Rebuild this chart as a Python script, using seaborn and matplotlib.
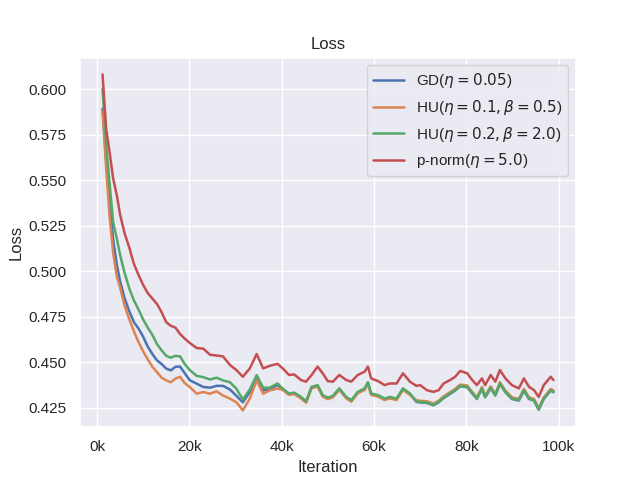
import pandas as pd
import seaborn as sns
import matplotlib
matplotlib.use("Agg")
import matplotlib.pyplot as plt
from matplotlib.ticker import FuncFormatter

# iteration grid
iterations = [1200, 2000, 2700, 3500, 4300, 5000, 6000, 7000, 8000, 9000,
              10000, 11000, 12000, 13000, 14000, 15000, 16000, 17000, 18000, 19000,
              20100, 21600, 23000, 24500, 25900, 27300, 28800, 30200, 31600, 33100,
              34600, 36000, 37400, 39100,
              40200, 41600, 42700, 44200, 45300, 46500, 47800, 48900, 50000, 51100,
              52500, 54000, 55100, 56500, 58000, 58700, 59400, 60900, 62300, 63400,
              64900, 66300, 67800, 69200,
              70000, 71500, 72900, 74000, 75100, 76500, 77600, 78700, 80200, 81300,
              82300, 83400, 84100, 85300, 86300, 87300, 88500, 89900, 91400, 92500,
              93600, 94700, 95700, 96800, 98300, 98900]

gd = [0.5894, 0.561, 0.541, 0.5175, 0.5035, 0.4945, 0.485, 0.478, 0.472, 0.4685,
      0.464, 0.4585, 0.4545, 0.451, 0.449, 0.4465, 0.4455, 0.4475, 0.4476, 0.444,
      0.4401, 0.4382, 0.4364, 0.4360, 0.4370, 0.4370, 0.4350, 0.4315, 0.4280, 0.4336,
      0.4410, 0.4345, 0.4352, 0.4375,
      0.4353, 0.4325, 0.4330, 0.4306, 0.4282, 0.4362, 0.4371, 0.4316, 0.4302, 0.4312,
      0.4353, 0.4306, 0.4288, 0.4334, 0.4353, 0.4387, 0.4325, 0.4316, 0.4297, 0.4306,
      0.4297, 0.4353, 0.4325, 0.4282,
      0.4279, 0.4276, 0.4263, 0.4279, 0.4303, 0.4326, 0.4344, 0.4368, 0.4363, 0.4328,
      0.4298, 0.4354, 0.4307, 0.4358, 0.4317, 0.4381, 0.4335, 0.4298, 0.4289, 0.4344,
      0.4298, 0.4289, 0.4239, 0.4298, 0.4344, 0.4335]

hu_small = [0.588, 0.556, 0.531, 0.510, 0.497, 0.491, 0.481, 0.4735, 0.467, 0.461,
            0.456, 0.4515, 0.4475, 0.4445, 0.4415, 0.440, 0.439, 0.441, 0.442, 0.4385,
            0.4364, 0.4327, 0.4336, 0.4327, 0.4340, 0.4317, 0.4300, 0.4280, 0.4235, 0.4300,
            0.4400, 0.4327, 0.4345, 0.4355,
            0.4348, 0.4320, 0.4325, 0.4301, 0.4277, 0.4357, 0.4366, 0.4311, 0.4297, 0.4307,
            0.4348, 0.4301, 0.4283, 0.4329, 0.4348, 0.4382, 0.4320, 0.4311, 0.4292, 0.4301,
            0.4292, 0.4348, 0.4320, 0.4291,
            0.4288, 0.4285, 0.4272, 0.4288, 0.4312, 0.4335, 0.4353, 0.4377, 0.4372, 0.4337,
            0.4307, 0.4363, 0.4316, 0.4367, 0.4326, 0.4390, 0.4344, 0.4307, 0.4298, 0.4353,
            0.4307, 0.4298, 0.4248, 0.4307, 0.4353, 0.4344]

hu_large = [0.6004, 0.569, 0.549, 0.527, 0.518, 0.509, 0.499, 0.4905, 0.484, 0.479,
            0.4735, 0.469, 0.465, 0.460, 0.4565, 0.4535, 0.4525, 0.4535, 0.4532, 0.449,
            0.4457, 0.4425, 0.4418, 0.4405, 0.4415, 0.4400, 0.4390, 0.4354, 0.4295, 0.4350,
            0.4429, 0.4360, 0.4360, 0.4383,
            0.4356, 0.4328, 0.4333, 0.4309, 0.4285, 0.4365, 0.4374, 0.4319, 0.4305, 0.4315,
            0.4356, 0.4309, 0.4291, 0.4337, 0.4356, 0.4390, 0.4328, 0.4319, 0.4300, 0.4309,
            0.4300, 0.4356, 0.4328, 0.4285,
            0.4281, 0.4278, 0.4265, 0.4281, 0.4305, 0.4328, 0.4346, 0.4370, 0.4365, 0.4330,
            0.4300, 0.4356, 0.4309, 0.4360, 0.4319, 0.4383, 0.4337, 0.4300, 0.4291, 0.4346,
            0.4300, 0.4291, 0.4241, 0.4300, 0.4346, 0.4337]

pnorm = [0.6083, 0.578, 0.566, 0.551, 0.5417, 0.5312, 0.5207, 0.513, 0.504, 0.498,
         0.4925, 0.488, 0.485, 0.482, 0.4775, 0.472, 0.470, 0.469, 0.4655, 0.463,
         0.4606, 0.4578, 0.4575, 0.4541, 0.4537, 0.4532, 0.4485, 0.4457, 0.4420, 0.4466,
         0.4545, 0.4466, 0.4480, 0.4491,
         0.4467, 0.4430, 0.4433, 0.4402, 0.4393, 0.4430, 0.4476, 0.4439, 0.4396, 0.4393,
         0.4430, 0.4402, 0.4393, 0.4430, 0.4448, 0.4476, 0.4411, 0.4396, 0.4374, 0.4383,
         0.4383, 0.4439, 0.4393, 0.4370,
         0.4374, 0.4346, 0.4337, 0.4346, 0.4383, 0.4402, 0.4420, 0.4452, 0.4439, 0.4402,
         0.4374, 0.4411, 0.4374, 0.4430, 0.4393, 0.4457, 0.4411, 0.4374, 0.4356, 0.4411,
         0.4365, 0.4346, 0.4309, 0.4374, 0.4420, 0.4402]

labels = [r'GD($\eta=0.05$)', r'HU($\eta=0.1,\beta=0.5$)',
          r'HU($\eta=0.2,\beta=2.0$)', r'p-norm($\eta=5.0$)']

sns.set_theme()
# Arial-like text as in the reference
plt.rcParams['font.family'] = ['Liberation Sans', 'DejaVu Sans']

fig, ax = plt.subplots(figsize=(6.4, 4.8), dpi=100)

for series, label in zip([gd, hu_small, hu_large, pnorm], labels):
    sns.lineplot(x=iterations, y=series, label=label, ax=ax, linewidth=1.8)

ax.xaxis.set_major_formatter(FuncFormatter(lambda v, p: f"{int(round(v / 1000))}k"))
ax.set_title("Loss")
ax.set_xlabel("Iteration")
ax.set_ylabel("Loss")
ax.legend(loc="upper right")

plt.savefig("out.png", dpi=100)
